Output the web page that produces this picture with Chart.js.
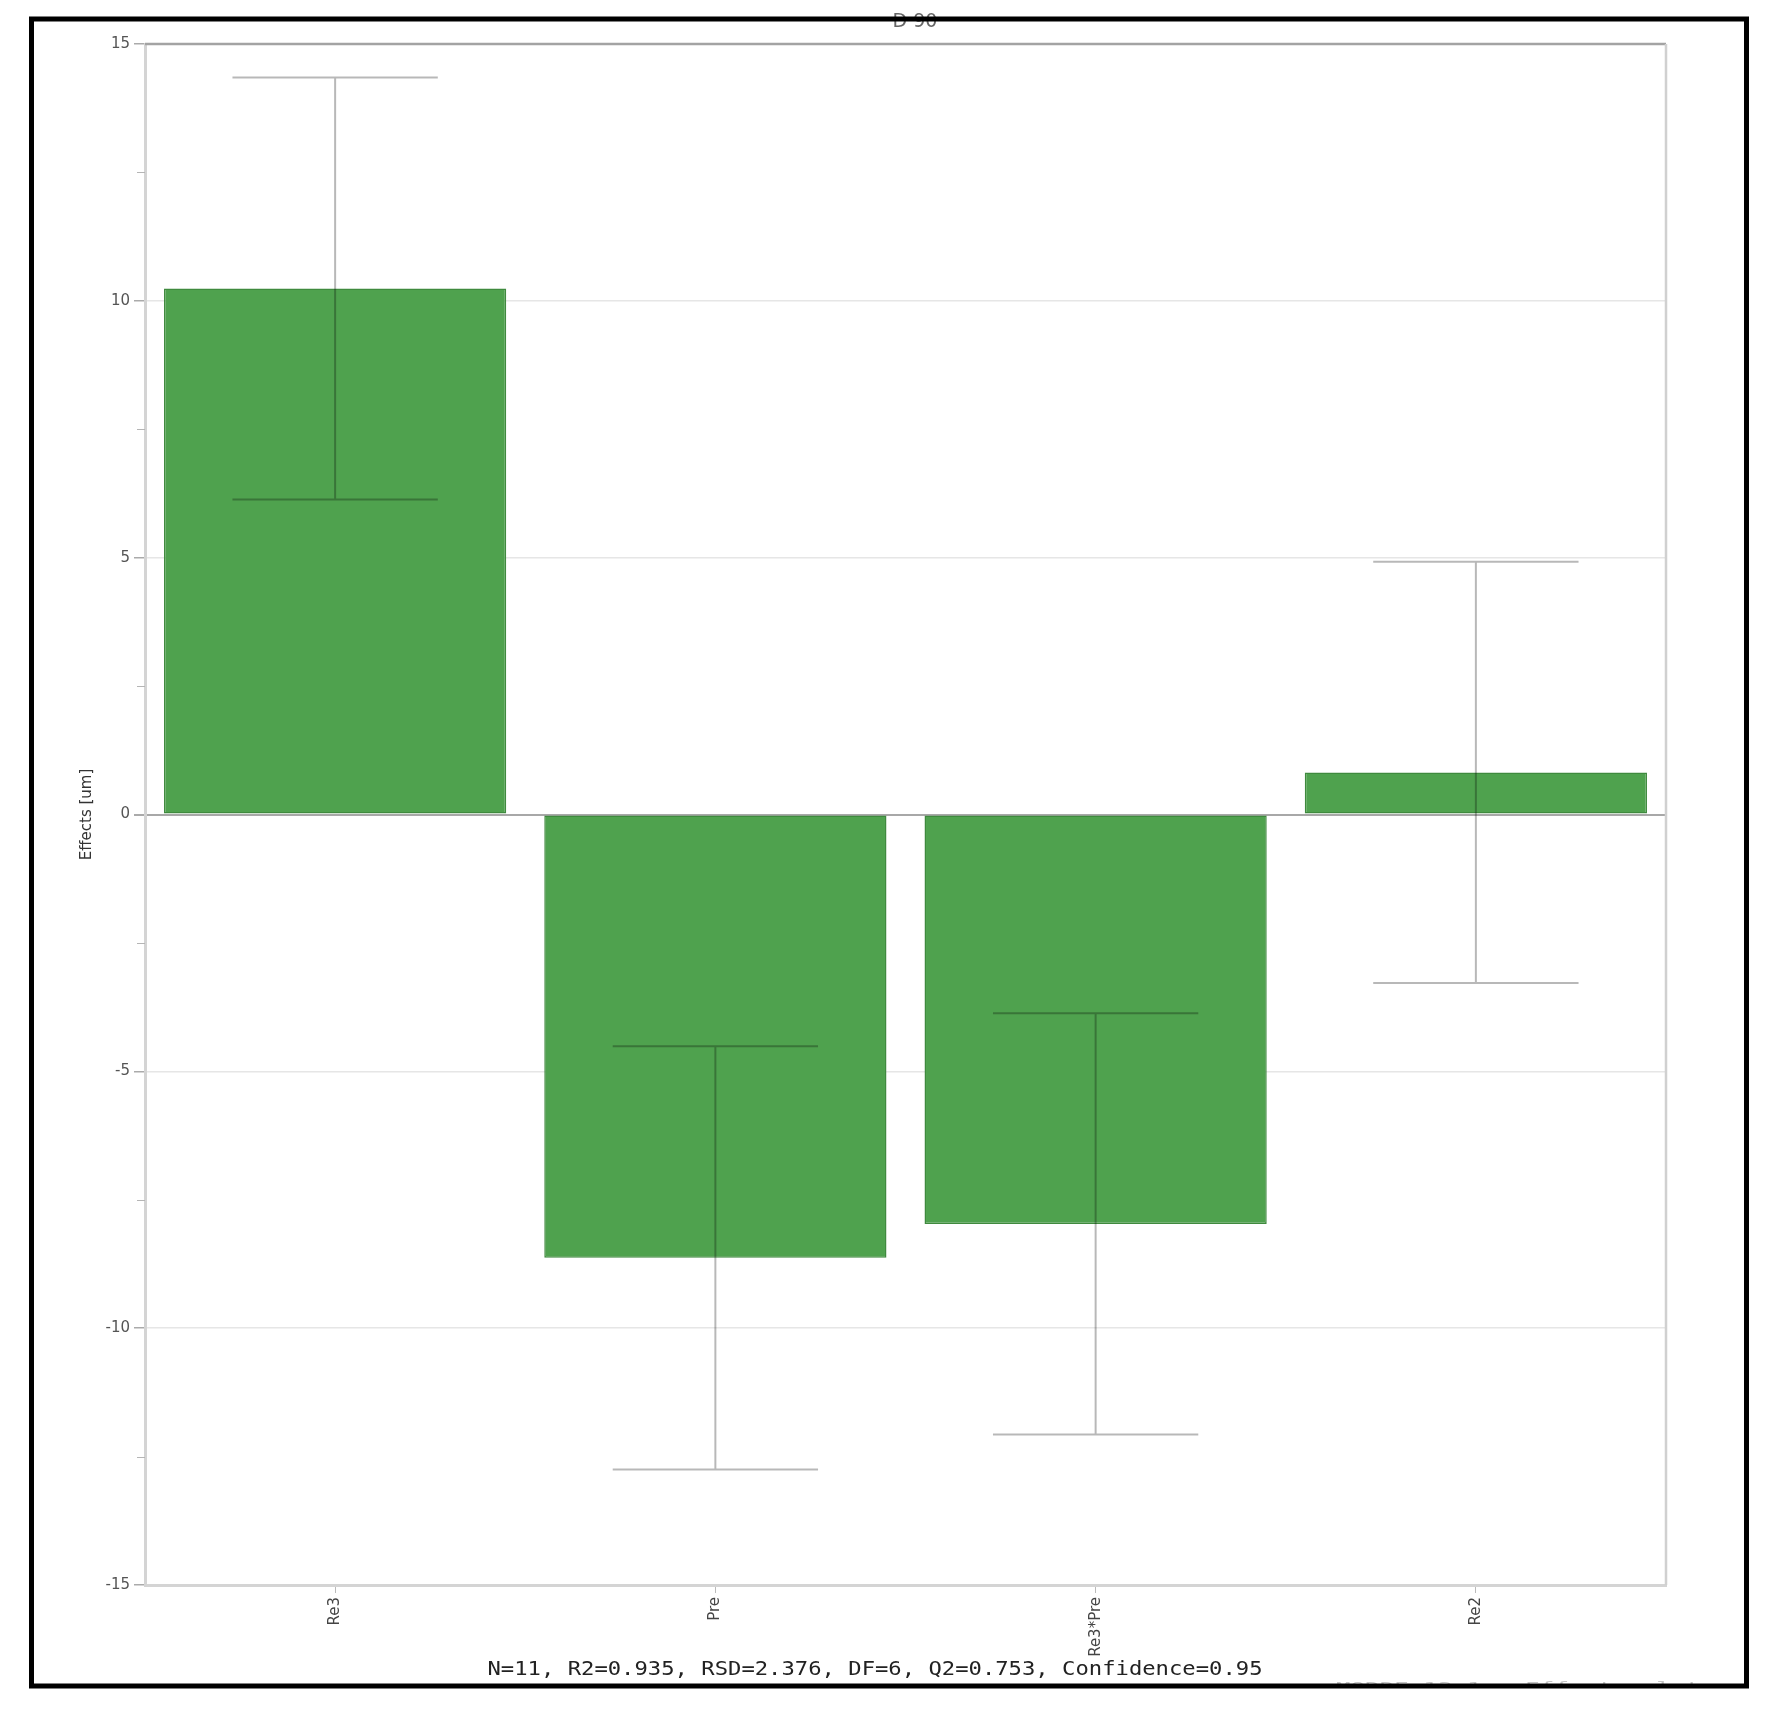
<!DOCTYPE html>
<html lang="en">
<head>
    <meta charset="UTF-8">
    <title>D 90 - Effects</title>
    <script src="https://cdn.jsdelivr.net/npm/chart.js"></script>
    <style>
        html, body { margin: 0; padding: 0; background: #fff; }
        canvas { display: block; }
    </style>
</head>
<body>
    <canvas id="effectsChart" width="1783" height="1709"></canvas>

    <script>
        // values
        const categories = ['Re3', 'Pre', 'Re3*Pre', 'Re2'];
        const effects = [10.24, -8.63, -7.97, 0.82];
        const confHalf = [4.11, 4.12, 4.10, 4.10]; // 95% confidence half-width
        const yMinorTicks = [-12.5, -7.5, -2.5, 2.5, 7.5, 12.5];

        const chartTitle = 'D 90';
        const yTitle = 'Effects [um]';
        const footnote = 'N=11, R2=0.935, RSD=2.376, DF=6, Q2=0.753, Confidence=0.95';
        const stamp = 'MODDE 13.1 - Effects plot';

        // error bars, frame, minor ticks and texts
        const extras = {
            id: 'extras',
            afterDatasetsDraw(chart) {
                const ctx = chart.ctx;
                const y = chart.scales.y;
                const meta = chart.getDatasetMeta(0);
                ctx.save();
                ctx.strokeStyle = 'rgba(0,0,0,0.28)';
                ctx.lineWidth = 2;
                meta.data.forEach(function(bar, i) {
                    const top = y.getPixelForValue(effects[i] + confHalf[i]);
                    const bot = y.getPixelForValue(effects[i] - confHalf[i]);
                    const half = bar.width * 0.3;
                    ctx.beginPath();
                    ctx.moveTo(bar.x, top);
                    ctx.lineTo(bar.x, bot);
                    ctx.moveTo(bar.x - half, top);
                    ctx.lineTo(bar.x + half, top);
                    ctx.moveTo(bar.x - half, bot);
                    ctx.lineTo(bar.x + half, bot);
                    ctx.stroke();
                });
                ctx.restore();
            },
            afterDraw(chart) {
                const ctx = chart.ctx;
                const area = chart.chartArea;
                const y = chart.scales.y;
                ctx.save();

                // top and right edges of the plot box
                ctx.lineWidth = 2.5;
                ctx.strokeStyle = '#a3a3a3';
                ctx.beginPath();
                ctx.moveTo(area.left, area.top);
                ctx.lineTo(area.right, area.top);
                ctx.stroke();
                ctx.strokeStyle = '#d0d0d0';
                ctx.beginPath();
                ctx.moveTo(area.right, area.top);
                ctx.lineTo(area.right, area.bottom);
                ctx.stroke();

                // minor ticks
                ctx.strokeStyle = '#b5b5b5';
                ctx.lineWidth = 1;
                yMinorTicks.forEach(function(v) {
                    const py = Math.round(y.getPixelForValue(v)) + 0.5;
                    ctx.beginPath();
                    ctx.moveTo(area.left - 8, py);
                    ctx.lineTo(area.left, py);
                    ctx.stroke();
                });

                // y axis title
                ctx.fillStyle = '#333';
                ctx.font = '15px "DejaVu Sans"';
                ctx.textAlign = 'center';
                ctx.textBaseline = 'middle';
                ctx.save();
                ctx.translate(87, (area.top + area.bottom) / 2);
                ctx.rotate(-Math.PI / 2);
                ctx.fillText(yTitle, 0, 0);
                ctx.restore();

                // title, mostly hidden under the frame
                ctx.fillStyle = '#666';
                ctx.font = '19px "DejaVu Sans"';
                ctx.textBaseline = 'alphabetic';
                ctx.fillText(chartTitle, 915, 27);

                // statistics line
                ctx.fillStyle = '#222';
                ctx.font = '19px "DejaVu Sans Mono"';
                const w = ctx.measureText(footnote).width;
                ctx.save();
                ctx.translate(875, 1675);
                ctx.scale(775 / w, 1);
                ctx.fillText(footnote, 0, 0);
                ctx.restore();

                // faint stamp cut by the frame
                ctx.save();
                ctx.beginPath();
                ctx.rect(0, 0, 1783, 1684);
                ctx.clip();
                ctx.fillStyle = '#c4c4c4';
                ctx.font = '13px "DejaVu Sans Mono"';
                ctx.textAlign = 'left';
                const sw = ctx.measureText(stamp).width;
                ctx.translate(1336, 1691);
                ctx.scale(364 / sw, 1);
                ctx.fillText(stamp, 0, 0);
                ctx.restore();

                // black outer frame
                ctx.strokeStyle = '#000';
                ctx.lineWidth = 5;
                ctx.strokeRect(31.5, 19, 1715, 1667);
                ctx.restore();
            }
        };

        const ctx = document.getElementById('effectsChart').getContext('2d');
        const effectsChart = new Chart(ctx, {
            type: 'bar',
            data: {
                labels: categories,
                datasets: [{
                    label: yTitle,
                    data: effects,
                    backgroundColor: '#4fa24e',
                    borderColor: '#3f8a3e',
                    borderWidth: 1.5,
                    borderSkipped: false,
                    barPercentage: 0.9,
                    categoryPercentage: 1.0
                }]
            },
            options: {
                responsive: false,
                animation: false,
                devicePixelRatio: 1,
                layout: {
                    padding: { left: 0, right: 117, top: 44, bottom: 0 }
                },
                plugins: {
                    legend: { display: false },
                    tooltip: { enabled: false },
                    title: { display: false }
                },
                scales: {
                    x: {
                        afterFit: function(scale) { scale.height = 124; },
                        border: { color: '#d4d4d4', width: 3 },
                        grid: {
                            offset: false,
                            drawOnChartArea: false,
                            tickLength: 8,
                            tickColor: '#bbbbbb'
                        },
                        ticks: {
                            autoSkip: false,
                            minRotation: 90,
                            maxRotation: 90,
                            padding: 4,
                            color: '#444',
                            font: { family: 'DejaVu Sans', size: 15 }
                        }
                    },
                    y: {
                        min: -15,
                        max: 15,
                        afterFit: function(scale) { scale.width = 145; },
                        border: { color: '#d4d4d4', width: 3 },
                        grid: {
                            tickLength: 11,
                            tickColor: '#aaaaaa',
                            color: function(c) {
                                const v = c.tick ? c.tick.value : null;
                                if (v === 0) return '#a8a8a8';
                                if (v === 15 || v === -15) return 'rgba(0,0,0,0)';
                                return '#e6e6e6';
                            },
                            lineWidth: function(c) {
                                return c.tick && c.tick.value === 0 ? 2 : 1.5;
                            }
                        },
                        ticks: {
                            stepSize: 5,
                            padding: 4,
                            color: '#555',
                            font: { family: 'DejaVu Sans', size: 15 }
                        }
                    }
                }
            },
            plugins: [extras]
        });
    </script>
</body>
</html>
